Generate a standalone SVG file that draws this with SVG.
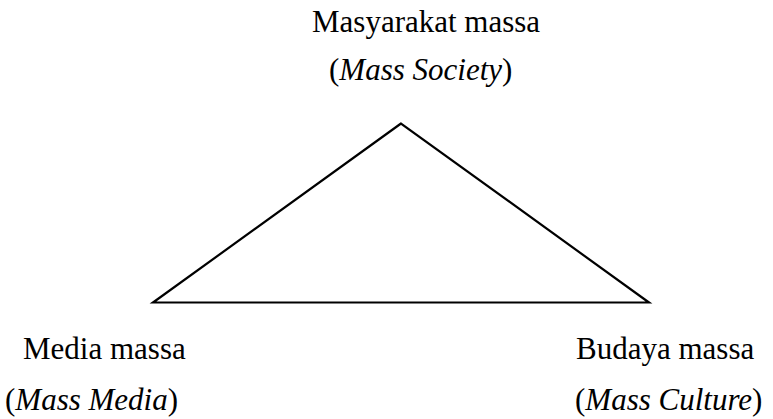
<svg xmlns="http://www.w3.org/2000/svg" width="773" height="419" viewBox="0 0 773 419">
<style>
text{font-family:"Liberation Serif","Times New Roman",serif;font-size:31px;fill:#000}
.i{font-style:italic}
.tri{fill:none;stroke:#000;stroke-width:2.2}
</style>
<rect width="773" height="419" fill="#fff"/>
<g id="connectors">
<polygon class="tri" points="401,123.5 153,302.5 649,302.5"/>
</g>
<g id="mass-society">
<text x="312" y="32">Masyarakat massa</text>
<text x="329" y="80">(<tspan class="i">Mass Society</tspan>)</text>
</g>
<g id="mass-media">
<text x="23" y="359">Media massa</text>
<text x="5" y="410">(<tspan class="i">Mass Media</tspan>)</text>
</g>
<g id="mass-culture">
<text x="576" y="359">Budaya massa</text>
<text x="575" y="410">(<tspan class="i">Mass Culture</tspan>)</text>
</g>
</svg>
